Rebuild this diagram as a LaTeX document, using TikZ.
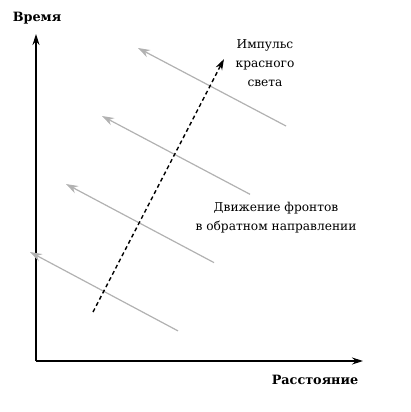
\documentclass[tikz,border=0pt]{standalone}
\usepackage{fontspec}
\setmainfont{DejaVu Serif}
\usepackage{tikz}
\usetikzlibrary{arrows.meta}

\begin{document}
\begin{tikzpicture}[x=1pt,y=-1pt]
        % Define styles
        \tikzset{
            axis/.style={-{Stealth[length=11pt,width=7pt]}, line width=1.2pt},
            front/.style={-{Stealth[length=12pt,width=8pt]}, draw=black!30, fill=black!30, line width=1.2pt},
            pulse/.style={-{Stealth[length=11pt,width=7pt]}, dash pattern=on 4pt off 3pt, line width=1.4pt},
            axis_label/.style={font=\bfseries\fontsize{12.8}{15}\selectfont},
            note/.style={align=center, font=\fontsize{12.2}{19}\selectfont}
        }
        \useasboundingbox (0,0) rectangle (411,412);

        % Nodes
        \coordinate (origin) at (36,361);
        \coordinate (time_tip) at (36,34);
        \coordinate (dist_tip) at (363,361);
        \node[axis_label] (time_label) at (37,18) {Время};
        \node[axis_label] (dist_label) at (315,380) {Расстояние};
        \node[note] (pulse_label) at (265,63) {Импульс\\красного\\света};
        \node[note] (front_label) at (276,218) {Движение фронтов\\в обратном направлении};
        \coordinate (pulse_start) at (93,312);
        \coordinate (pulse_tip) at (224,59);

        % Arrows
        \draw[axis] (origin) -- (time_tip);
        \draw[axis] (origin) -- (dist_tip);
        \foreach \i in {0,...,3} {
            \coordinate (front_start_\i) at (286-36*\i, 126+68.3*\i);
            \coordinate (front_end_\i) at (138-36*\i, 48+68*\i);
            \draw[front] (front_start_\i) -- (front_end_\i);
        }
        \draw[pulse] (pulse_start) -- (pulse_tip);
    \end{tikzpicture}
\end{document}
